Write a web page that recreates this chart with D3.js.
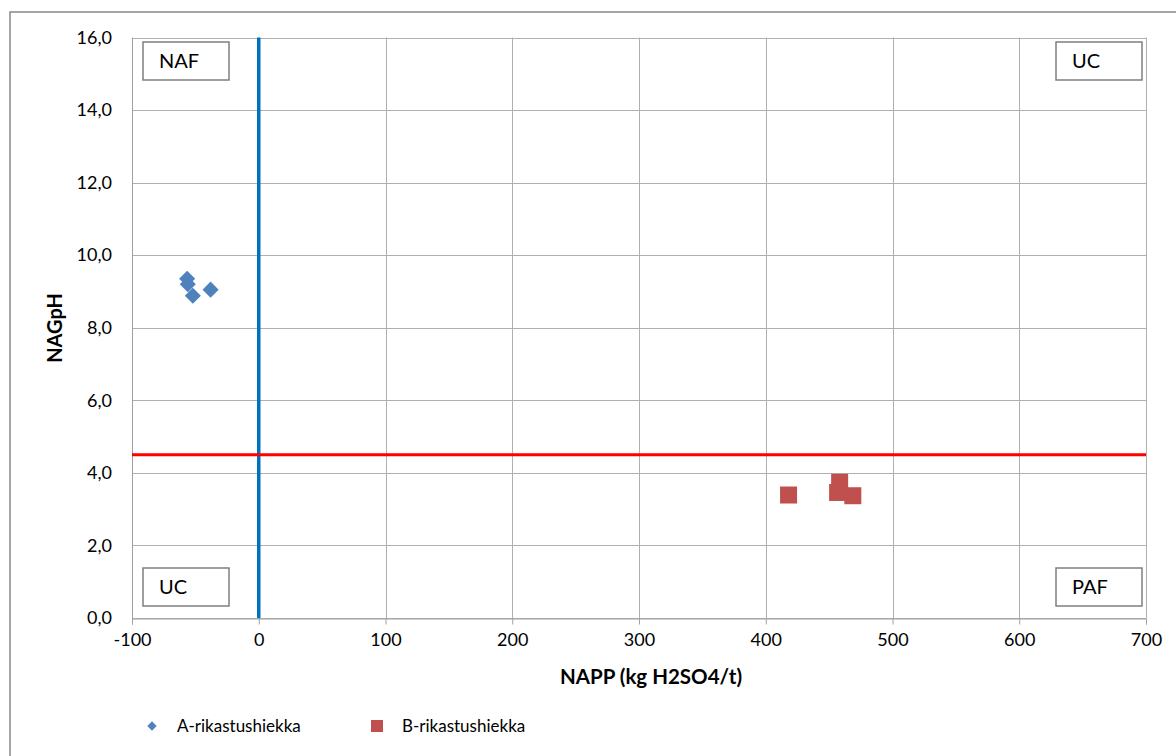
<!DOCTYPE html>
<html><head><meta charset="utf-8">
<script src="https://cdn.jsdelivr.net/npm/d3@7"></script>
<style>body{margin:0;background:#fff;} svg{display:block;} text{font-family:Lato,"Liberation Sans",sans-serif;fill:#000;}</style>
</head><body><svg id="c" width="1176" height="756"></svg>
<script>
const xTicks = [-100,0,100,200,300,400,500,600,700];
const yTicks = [0,2,4,6,8,10,12,14,16];
const seriesNames = ["A-rikastushiekka","B-rikastushiekka"];
const aX = [-56.5,-56,-52,-38];
const aY = [9.35,9.2,8.88,9.05];
const bX = [418,458.3,456.7,468.7];
const bY = [3.39,3.74,3.46,3.37];
const refX = 0, refY = 4.5;
const zoneLabels = [
  {t:"NAF", x:-100, y:16, ax:"left", ay:"top"},
  {t:"UC", x:700, y:16, ax:"right", ay:"top"},
  {t:"UC", x:-100, y:0, ax:"left", ay:"bottom"},
  {t:"PAF", x:700, y:0, ax:"right", ay:"bottom"}
];

const svg = d3.select("#c");
const L=132, R=1146, T=37.5, B=618;
const x = d3.scaleLinear().domain([-100,700]).range([L,R]);
const y = d3.scaleLinear().domain([0,16]).range([B,T]);

// outer border
svg.append("rect").attr("x",10).attr("y",12).attr("width",1200).attr("height",800)
  .attr("fill","none").attr("stroke","#888").attr("stroke-width",1.5);

// grid
const g = svg.append("g");
g.selectAll(".vg").data(xTicks).join("line")
  .attr("x1",d=>Math.round(x(d))+0.5).attr("x2",d=>Math.round(x(d))+0.5)
  .attr("y1",T).attr("y2",B).attr("stroke","#b0b0b0").attr("stroke-width",1);
g.selectAll(".hg").data(yTicks).join("line")
  .attr("y1",d=>Math.round(y(d))+0.5).attr("y2",d=>Math.round(y(d))+0.5)
  .attr("x1",L).attr("x2",R).attr("stroke","#b0b0b0").attr("stroke-width",1);

// x axis
const xa = svg.append("g").attr("transform",`translate(0,${Math.round(B)+0.5})`)
  .call(d3.axisBottom(x).tickValues(xTicks).tickSize(6).tickPadding(9).tickFormat(d=>String(d)));
xa.select(".domain").attr("stroke","#a0a0a0");
xa.selectAll(".tick line").attr("stroke","#a0a0a0");
xa.selectAll("text").attr("font-size",18).attr("font-family","Lato,'Liberation Sans',sans-serif").attr("fill","#000");

// y axis
const ya = svg.append("g").attr("transform",`translate(${L},0)`)
  .call(d3.axisLeft(y).tickValues(yTicks).tickSize(0).tickPadding(20).tickFormat(d=>d3.format(".1f")(d).replace(".",",")));
ya.select(".domain").attr("stroke","#a0a0a0");
ya.selectAll("text").attr("font-size",18).attr("font-family","Lato,'Liberation Sans',sans-serif").attr("fill","#000");

// zone labels
const bw=86, bh=38;
zoneLabels.forEach(z=>{
  const bx = z.ax==="left" ? x(z.x)+11 : x(z.x)-4-bw;
  const by = z.ay==="top" ? y(z.y)+4.5 : y(z.y)-12-bh;
  svg.append("rect").attr("x",bx).attr("y",by).attr("width",bw).attr("height",bh)
    .attr("fill","#fff").attr("stroke","#7f7f7f").attr("stroke-width",1.5);
  svg.append("text").attr("x",bx+16).attr("y",by+bh/2+7).attr("font-size",20).text(z.t);
});

// reference lines
svg.append("line").attr("x1",x(refX)).attr("x2",x(refX)).attr("y1",T).attr("y2",B)
  .attr("stroke","#0070C0").attr("stroke-width",3.5);
svg.append("line").attr("x1",L).attr("x2",R).attr("y1",y(refY)).attr("y2",y(refY))
  .attr("stroke","#FF0000").attr("stroke-width",3);

// points
const aData = aX.map((v,i)=>({x:v,y:aY[i]}));
const bData = bX.map((v,i)=>({x:v,y:bY[i]}));
svg.append("g").selectAll("path").data(aData).join("path")
  .attr("d",d3.symbol().type(d3.symbolDiamond2).size(165))
  .attr("transform",d=>`translate(${x(d.x)},${y(d.y)})`)
  .attr("fill","#4F81BD");
svg.append("g").selectAll("rect").data(bData).join("rect")
  .attr("x",d=>x(d.x)-8.5).attr("y",d=>y(d.y)-8.5).attr("width",17).attr("height",17)
  .attr("fill","#C0504D");

// axis titles
svg.append("text").attr("x",651).attr("y",684).attr("text-anchor","middle")
  .attr("font-size",20.5).attr("font-weight","bold").text("NAPP (kg H2SO4/t)");
svg.append("text").attr("transform","translate(62,328) rotate(-90)").attr("text-anchor","middle")
  .attr("font-size",20).attr("font-weight","bold").text("NAGpH");

// legend
const leg = svg.append("g");
leg.append("path").attr("d",d3.symbol().type(d3.symbolDiamond2).size(55)).attr("transform","translate(152,726)").attr("fill","#4F81BD");
leg.append("text").attr("x",177).attr("y",732).attr("font-size",17).text(seriesNames[0]);
leg.append("rect").attr("x",371).attr("y",720).attr("width",12).attr("height",12).attr("fill","#C0504D");
leg.append("text").attr("x",402).attr("y",732).attr("font-size",17).text(seriesNames[1]);
</script></body></html>
